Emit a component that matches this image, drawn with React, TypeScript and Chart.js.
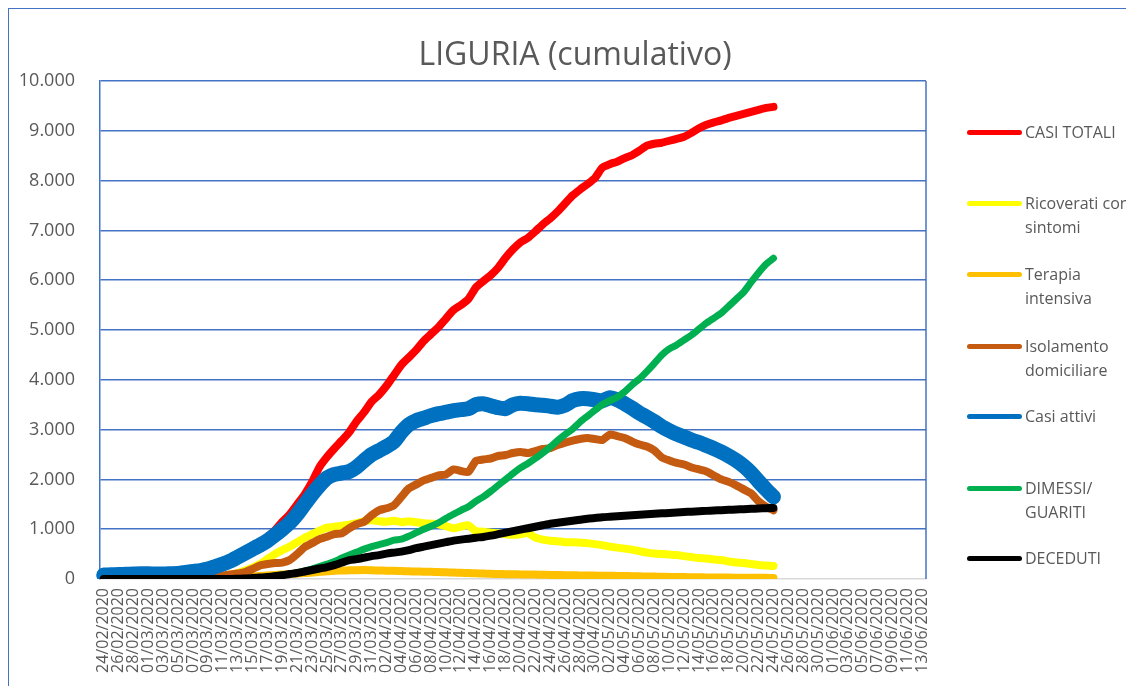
import React, { useEffect, useRef } from "react";
import { Chart, registerables } from "chart.js";
Chart.register(...registerables);

const dates = [
  "24/02/2020","25/02/2020","26/02/2020","27/02/2020","28/02/2020","29/02/2020",
  "01/03/2020","02/03/2020","03/03/2020","04/03/2020","05/03/2020","06/03/2020","07/03/2020","08/03/2020","09/03/2020","10/03/2020",
  "11/03/2020","12/03/2020","13/03/2020","14/03/2020","15/03/2020","16/03/2020","17/03/2020","18/03/2020","19/03/2020","20/03/2020",
  "21/03/2020","22/03/2020","23/03/2020","24/03/2020","25/03/2020","26/03/2020","27/03/2020","28/03/2020","29/03/2020","30/03/2020","31/03/2020",
  "01/04/2020","02/04/2020","03/04/2020","04/04/2020","05/04/2020","06/04/2020","07/04/2020","08/04/2020","09/04/2020","10/04/2020",
  "11/04/2020","12/04/2020","13/04/2020","14/04/2020","15/04/2020","16/04/2020","17/04/2020","18/04/2020","19/04/2020","20/04/2020",
  "21/04/2020","22/04/2020","23/04/2020","24/04/2020","25/04/2020","26/04/2020","27/04/2020","28/04/2020","29/04/2020","30/04/2020",
  "01/05/2020","02/05/2020","03/05/2020","04/05/2020","05/05/2020","06/05/2020","07/05/2020","08/05/2020","09/05/2020","10/05/2020",
  "11/05/2020","12/05/2020","13/05/2020","14/05/2020","15/05/2020","16/05/2020","17/05/2020","18/05/2020","19/05/2020","20/05/2020",
  "21/05/2020","22/05/2020","23/05/2020","24/05/2020","25/05/2020","26/05/2020","27/05/2020","28/05/2020","29/05/2020","30/05/2020","31/05/2020",
  "01/06/2020","02/06/2020","03/06/2020","04/06/2020","05/06/2020","06/06/2020","07/06/2020","08/06/2020","09/06/2020","10/06/2020",
  "11/06/2020","12/06/2020","13/06/2020"
];

const casiTotali = [
  80,85,90,95,100,105,105,100,100,105,110,130,150,180,215,265,320,385,465,550,
  640,730,840,980,1150,1300,1500,1700,1950,2250,
  2450,2620,2780,2950,3170,3350,3560,3700,3880,4090,
  4300,4450,4600,4780,4920,5060,5230,5400,5500,5620,
  5850,5980,6100,6250,6450,6620,6760,6850,6980,7120,
  7240,7380,7540,7700,7820,7930,8050,8260,8330,8380,
  8450,8510,8600,8700,8740,8760,8800,8840,8880,8960,
  9050,9120,9170,9210,9260,9300,9340,9380,9420,9460,
  9480
];

const ricoverati = [
  0,0,5,5,8,8,10,10,10,10,12,12,15,20,30,45,60,90,120,170,
  230,300,400,500,580,650,740,830,900,970,
  1030,1050,1070,1090,1120,1160,1180,1160,1150,1170,
  1140,1160,1140,1120,1110,1100,1060,1020,1050,1080,
  960,950,930,920,900,890,900,920,830,790,
  770,760,740,740,730,720,700,680,650,630,
  610,590,560,530,510,500,490,480,460,440,
  420,410,390,380,350,330,320,300,280,270,
  260
];

const terapiaIntensiva = [
  0,0,0,0,0,0,0,0,0,0,0,2,4,6,8,10,15,20,30,40,
  50,60,70,80,90,100,110,120,130,145,
  155,165,170,175,178,179,175,170,168,165,
  160,155,150,148,145,140,135,130,125,120,
  115,110,105,100,97,95,92,90,88,85,
  82,80,77,75,72,70,68,66,64,62,
  60,57,54,50,48,45,42,40,38,36,
  34,32,30,29,28,27,26,25,24,23,
  22
];

const isolamento = [
  0,0,10,10,15,15,15,20,20,20,20,20,20,25,35,50,70,90,110,140,
  200,270,300,320,330,380,500,640,720,800,
  850,900,920,1020,1100,1150,1280,1380,1420,1480,
  1650,1820,1900,1980,2030,2080,2100,2200,2170,2150,
  2370,2400,2420,2470,2490,2530,2550,2530,2570,2610,
  2630,2690,2740,2780,2810,2830,2810,2790,2900,2870,
  2830,2760,2700,2660,2580,2440,2380,2330,2300,2240,
  2200,2160,2080,2000,1950,1880,1800,1720,1560,1450,
  1380
];

const casiAttivi = [
  80,85,90,95,100,105,105,100,100,105,110,130,150,170,200,250,300,360,440,520,
  600,680,770,880,1000,1130,1300,1500,1700,1880,
  2030,2100,2130,2160,2250,2380,2500,2580,2660,2760,
  2950,3100,3180,3230,3280,3320,3350,3380,3400,3420,
  3500,3520,3480,3440,3420,3500,3530,3520,3500,3490,
  3470,3450,3490,3580,3620,3620,3600,3580,3640,3600,
  3520,3430,3330,3250,3160,3060,2980,2910,2850,2790,
  2740,2680,2620,2550,2470,2380,2270,2130,1960,1800,
  1650
];

const dimessiGuariti = [
  0,0,0,0,0,0,0,0,0,0,0,0,0,0,0,0,0,0,5,10,
  20,30,40,60,80,100,130,160,200,250,
  300,350,420,480,540,600,650,690,730,780,
  800,860,930,1000,1060,1130,1220,1300,1380,1450,
  1560,1650,1760,1880,2000,2120,2230,2320,2420,2530,
  2650,2780,2900,3010,3150,3270,3390,3500,3580,3650,
  3760,3900,4020,4170,4330,4500,4620,4700,4800,4900,
  5020,5140,5240,5340,5480,5620,5760,5960,6150,6320,
  6440
];

const deceduti = [
  0,0,0,0,0,0,0,0,0,0,0,0,0,0,0,0,0,0,5,10,
  20,30,40,55,75,100,120,150,180,210,
  240,280,330,380,400,430,460,480,510,530,
  550,580,620,650,680,710,740,770,790,810,
  830,845,870,900,930,960,990,1020,1050,1080,
  1110,1130,1150,1170,1190,1210,1225,1240,1250,1260,
  1270,1280,1290,1300,1310,1318,1325,1335,1345,1352,
  1360,1368,1375,1382,1390,1395,1402,1410,1416,1422,
  1428
];

const seriesNames = [
  "CASI TOTALI",
  "Ricoverati con sintomi",
  "Terapia intensiva",
  "Isolamento domiciliare",
  "Casi attivi",
  "DIMESSI/ GUARITI",
  "DECEDUTI",
];
const legendLines = [
  ["CASI TOTALI"],
  ["Ricoverati con", "sintomi"],
  ["Terapia", "intensiva"],
  ["Isolamento", "domiciliare"],
  ["Casi attivi"],
  ["DIMESSI/", "GUARITI"],
  ["DECEDUTI"],
];
const yTickValues = [0, 1000, 2000, 3000, 4000, 5000, 6000, 7000, 8000, 9000, 10000];
const yTickLabels = ["0", "1.000", "2.000", "3.000", "4.000", "5.000", "6.000", "7.000", "8.000", "9.000", "10.000"];

const seriesValues = [casiTotali, ricoverati, terapiaIntensiva, isolamento, casiAttivi, dimessiGuariti, deceduti];
const seriesColors = ["#FF0000", "#FFFF00", "#FFC000", "#C55A11", "#0070C0", "#00B050", "#000000"];
const seriesWidths = [8, 8, 8, 8, 15, 7, 8];
const legendY = [132, 203, 274, 346, 416, 488, 558];

const FONT = "'Open Sans', 'Noto Sans', sans-serif";
const TEXT = "#595959";
const BLUE = "#4472C4";

const framePlugin = {
  id: "frameRight",
  beforeDatasetsDraw(chart: any) {
    const { ctx, chartArea: a } = chart;
    ctx.save();
    ctx.strokeStyle = BLUE;
    ctx.lineWidth = 1.5;
    ctx.beginPath();
    ctx.moveTo(a.right, a.top);
    ctx.lineTo(a.right, a.bottom);
    ctx.stroke();
    ctx.restore();
  },
};

export default function App() {
  const ref = useRef<HTMLCanvasElement>(null);

  useEffect(() => {
    if (!ref.current) return;
    const chart = new Chart(ref.current, {
      type: "line",
      data: {
        labels: dates,
        datasets: seriesNames.map((name, i) => ({
          label: name,
          data: seriesValues[i],
          borderColor: seriesColors[i],
          backgroundColor: seriesColors[i],
          borderWidth: seriesWidths[i],
          borderCapStyle: "round",
          borderJoinStyle: "round",
          pointRadius: 0,
          pointHoverRadius: 0,
          tension: 0.2,
          fill: false,
          order: seriesNames.length - i,
        })),
      },
      options: {
        responsive: false,
        animation: false,
        events: [],
        layout: { padding: { left: 10, right: 200, top: 81, bottom: 0 } },
        plugins: {
          legend: { display: false },
          title: { display: false },
          tooltip: { enabled: false },
        },
        scales: {
          x: {
            type: "category",
            offset: true,
            grid: { display: false, drawTicks: false },
            border: { display: false },
            ticks: {
              autoSkip: false,
              maxRotation: 90,
              minRotation: 90,
              padding: 9,
              color: TEXT,
              font: { family: FONT, size: 16 },
              callback: (_v: any, i: number) => (i % 2 === 0 ? dates[i] : ""),
            },
            afterFit: (s: any) => {
              s.height = 107;
            },
          },
          y: {
            min: 0,
            max: 10000,
            afterBuildTicks: (s: any) => {
              s.ticks = yTickValues.map((v) => ({ value: v }));
            },
            grid: {
              drawTicks: false,
              lineWidth: 1.5,
              color: (c: any) => (c.tick && c.tick.value === 0 ? "#D9D9D9" : BLUE),
            },
            border: { display: true, color: BLUE, width: 1.5 },
            ticks: {
              padding: 25,
              color: TEXT,
              font: { family: FONT, size: 18 },
              callback: (v: any) => yTickLabels[yTickValues.indexOf(Number(v))] ?? "",
            },
            afterFit: (s: any) => {
              s.width = 90;
            },
          },
        },
      },
      plugins: [framePlugin],
    } as any);
    return () => chart.destroy();
  }, []);

  return (
    <div style={{ position: "fixed", inset: 0, overflow: "hidden", background: "#fff" }}>
      <div
        style={{
          position: "absolute",
          left: 8,
          top: 8,
          width: 1300,
          height: 900,
          borderLeft: `1.5px solid ${BLUE}`,
          borderTop: `1.5px solid ${BLUE}`,
        }}
      />
      <canvas
        ref={ref}
        width={1126}
        height={686}
        style={{ position: "absolute", left: 0, top: 0, width: 1126, height: 686 }}
      />
      <div
        style={{
          position: "absolute",
          left: 325,
          width: 500,
          top: 33,
          textAlign: "center",
          fontFamily: FONT,
          fontSize: 32,
          fontWeight: 400,
          lineHeight: "40px",
          color: TEXT,
          whiteSpace: "nowrap",
        }}
      >
        LIGURIA (cumulativo)
      </div>
      {legendLines.map((lines, i) => (
        <div key={i}>
          <div
            style={{
              position: "absolute",
              left: 967,
              top: legendY[i] - 2.5,
              width: 55,
              height: 5,
              borderRadius: 3,
              background: seriesColors[i],
            }}
          />
          <div
            style={{
              position: "absolute",
              left: 1025,
              top: legendY[i] - 12,
              fontFamily: FONT,
              fontSize: 16,
              lineHeight: "24px",
              color: TEXT,
              whiteSpace: "pre",
            }}
          >
            {lines.join("\n")}
          </div>
        </div>
      ))}
    </div>
  );
}
